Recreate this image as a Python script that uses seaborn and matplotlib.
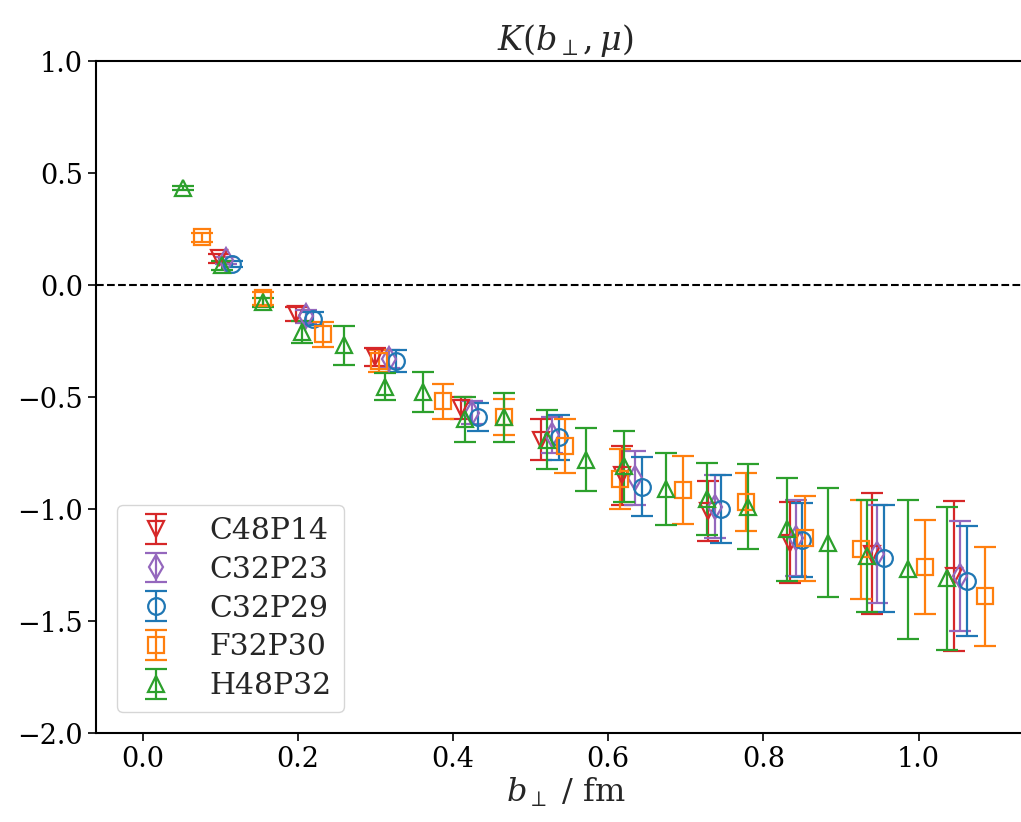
import numpy as np
import matplotlib
matplotlib.use("Agg")
import matplotlib.pyplot as plt
import seaborn as sns

# ensemble data: b_perp in fm, K value, error
c48p14_b = [0.098, 0.198, 0.300, 0.410, 0.514, 0.618, 0.728, 0.834, 0.940, 1.046]
c48p14_k = [0.12, -0.13, -0.32, -0.55, -0.69, -0.85, -1.01, -1.15, -1.20, -1.30]
c48p14_e = [0.02, 0.03, 0.04, 0.05, 0.09, 0.13, 0.135, 0.18, 0.27, 0.335]

c32p23_b = [0.107, 0.211, 0.318, 0.424, 0.528, 0.634, 0.738, 0.842, 0.947, 1.053]
c32p23_k = [0.11, -0.14, -0.33, -0.57, -0.67, -0.86, -0.99, -1.13, -1.20, -1.30]
c32p23_e = [0.015, 0.03, 0.04, 0.05, 0.08, 0.12, 0.14, 0.17, 0.22, 0.245]

c32p29_b = [0.115, 0.219, 0.327, 0.432, 0.537, 0.643, 0.746, 0.850, 0.956, 1.062]
c32p29_k = [0.094, -0.15, -0.34, -0.59, -0.68, -0.90, -1.00, -1.14, -1.22, -1.32]
c32p29_e = [0.015, 0.03, 0.05, 0.063, 0.10, 0.13, 0.15, 0.165, 0.24, 0.245]

f32p30_b = [0.077, 0.155, 0.232, 0.305, 0.387, 0.466, 0.544, 0.615, 0.696, 0.778,
            0.853, 0.926, 1.008, 1.085]
f32p30_k = [0.214, -0.06, -0.22, -0.34, -0.52, -0.59, -0.72, -0.865, -0.915, -0.97,
            -1.13, -1.18, -1.26, -1.39]
f32p30_e = [0.02, 0.03, 0.055, 0.05, 0.077, 0.08, 0.12, 0.135, 0.153, 0.13,
            0.19, 0.22, 0.21, 0.22]

h48p32_b = [0.0515, 0.103, 0.155, 0.206, 0.260, 0.312, 0.361, 0.415, 0.466, 0.521,
            0.571, 0.621, 0.675, 0.727, 0.780, 0.831, 0.883, 0.934, 0.986, 1.037]
h48p32_k = [0.433, 0.089, -0.076, -0.21, -0.27, -0.455, -0.478, -0.60, -0.59, -0.69,
            -0.78, -0.81, -0.91, -0.955, -0.99, -1.09, -1.15, -1.21, -1.27, -1.31]
h48p32_e = [0.01, 0.02, 0.02, 0.05, 0.089, 0.06, 0.09, 0.10, 0.11, 0.13,
            0.14, 0.16, 0.16, 0.16, 0.19, 0.23, 0.245, 0.25, 0.31, 0.32]

labels = ["C48P14", "C32P23", "C32P29", "F32P30", "H48P32"]
markers = ["v", "d", "o", "s", "^"]

sns.set_theme(style="ticks")
plt.rcParams['font.family'] = ['DejaVu Serif']
plt.rcParams['mathtext.fontset'] = 'dejavuserif'

pal = sns.color_palette("tab10")
colors = [pal[3], pal[4], pal[0], pal[1], pal[2]]

series = [
    (c48p14_b, c48p14_k, c48p14_e),
    (c32p23_b, c32p23_k, c32p23_e),
    (c32p29_b, c32p29_k, c32p29_e),
    (f32p30_b, f32p30_k, f32p30_e),
    (h48p32_b, h48p32_k, h48p32_e),
]

fig = plt.figure(figsize=(10.21, 8.22), dpi=100)
ax = fig.add_axes([96 / 1021, 89 / 822, 939 / 1021, 672 / 822])

for (b, k, e), lab, m, c in zip(series, labels, markers, colors):
    ax.errorbar(b, k, yerr=e, fmt=m, color=c, mfc="none", mec=c,
                markersize=12, mew=1.6, elinewidth=1.6, capsize=8,
                capthick=1.6, label=lab)

ax.axhline(0.0, color="black", ls="--", lw=1.5)

ax.set_xlim(-0.06, 1.15)
ax.set_ylim(-2.0, 1.0)
ax.set_xticks([0.0, 0.2, 0.4, 0.6, 0.8, 1.0])
ax.set_yticks([1.0, 0.5, 0.0, -0.5, -1.0, -1.5, -2.0])
ax.tick_params(labelsize=19.5, length=6, width=1.2, colors="black")
for s in ax.spines.values():
    s.set_color("black")
    s.set_linewidth(1.5)

ax.set_title(r"$K(b_\perp, \mu)$", fontsize=24, pad=8)
ax.set_xlabel(r"$b_\perp$ / fm", fontsize=23, labelpad=2)

ax.legend(loc="lower left", fontsize=21.5, frameon=True, handlelength=1.8,
          borderaxespad=0.7, labelspacing=0.36, handletextpad=0.9,
          borderpad=0.4)

fig.savefig("out.png", dpi=100)
